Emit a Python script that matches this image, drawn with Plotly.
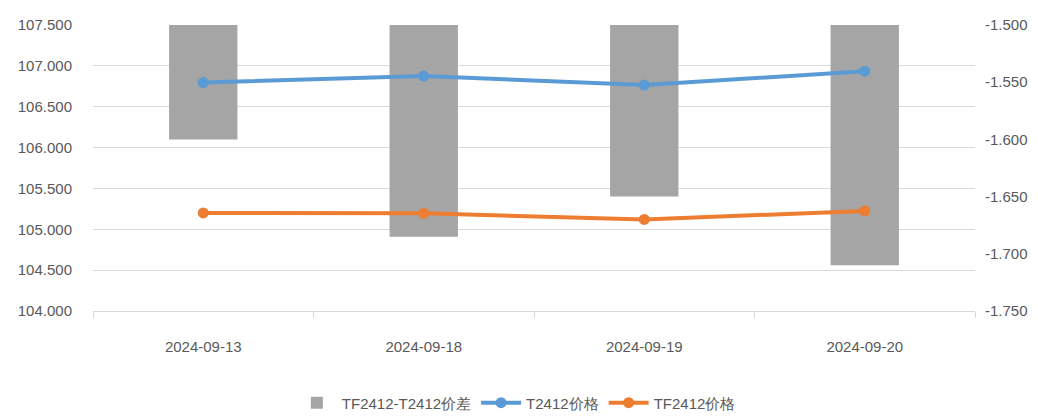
import plotly.graph_objects as go

dates = ["2024-09-13", "2024-09-18", "2024-09-19", "2024-09-20"]
spread = [-1.600, -1.685, -1.650, -1.710]
t_price = [106.795, 106.875, 106.765, 106.935]
tf_price = [105.200, 105.195, 105.120, 105.225]

left_ticks = [104.0, 104.5, 105.0, 105.5, 106.0, 106.5, 107.0, 107.5]
left_text = ["104.000", "104.500", "105.000", "105.500", "106.000", "106.500", "107.000", "107.500"]
right_ticks = [-1.75, -1.70, -1.65, -1.60, -1.55, -1.50]
right_text = ["-1.750", "-1.700", "-1.650", "-1.600", "-1.550", "-1.500"]

FONT = "Liberation Sans"
TXT = "#595959"

fig = go.Figure()
fig.add_trace(go.Bar(x=dates, y=spread, name="TF2412-T2412价差",
                     marker=dict(color="#a5a5a5", line=dict(width=0)),
                     width=0.31, yaxis="y"))
fig.add_trace(go.Scatter(x=dates, y=t_price, name="T2412价格", mode="lines+markers",
                         line=dict(color="#5b9bd5", width=4),
                         marker=dict(size=11, color="#5b9bd5"), yaxis="y2"))
fig.add_trace(go.Scatter(x=dates, y=tf_price, name="TF2412价格", mode="lines+markers",
                         line=dict(color="#ed7d31", width=4),
                         marker=dict(size=11, color="#ed7d31"), yaxis="y2"))

fig.update_layout(
    width=1030, height=411,
    margin=dict(l=85, r=63, t=17, b=108, autoexpand=False),
    paper_bgcolor="white", plot_bgcolor="white",
    font=dict(family=FONT, size=15, color=TXT),
    showlegend=True,
    legend=dict(orientation="h", x=0.48, xanchor="center", yref="container",
                y=0.039, yanchor="middle",
                font=dict(family=FONT, size=15, color=TXT), itemwidth=40,
                traceorder="normal"),
    xaxis=dict(type="category", showgrid=False, showline=True, linecolor="#d9d9d9",
               linewidth=1, ticks="outside", tickson="boundaries", ticklen=6,
               tickcolor="#d9d9d9", ticklabelstandoff=22, automargin=False,
               tickfont=dict(family=FONT, size=15, color=TXT)),
    yaxis=dict(side="right", range=[-1.75, -1.5], tickvals=right_ticks, ticktext=right_text,
               showgrid=False, zeroline=False, showline=False, ticks="",
               ticklabelstandoff=9, automargin=False,
               tickfont=dict(family=FONT, size=15, color=TXT)),
    yaxis2=dict(side="left", overlaying="y", range=[104, 107.5], tickvals=left_ticks,
                ticktext=left_text, showgrid=True, gridcolor="#d9d9d9", gridwidth=1,
                zeroline=False, showline=False, ticks="", ticklabelstandoff=20,
                automargin=False,
                tickfont=dict(family=FONT, size=15, color=TXT)),
    bargap=0.69,
)

fig.write_html("out.html")
